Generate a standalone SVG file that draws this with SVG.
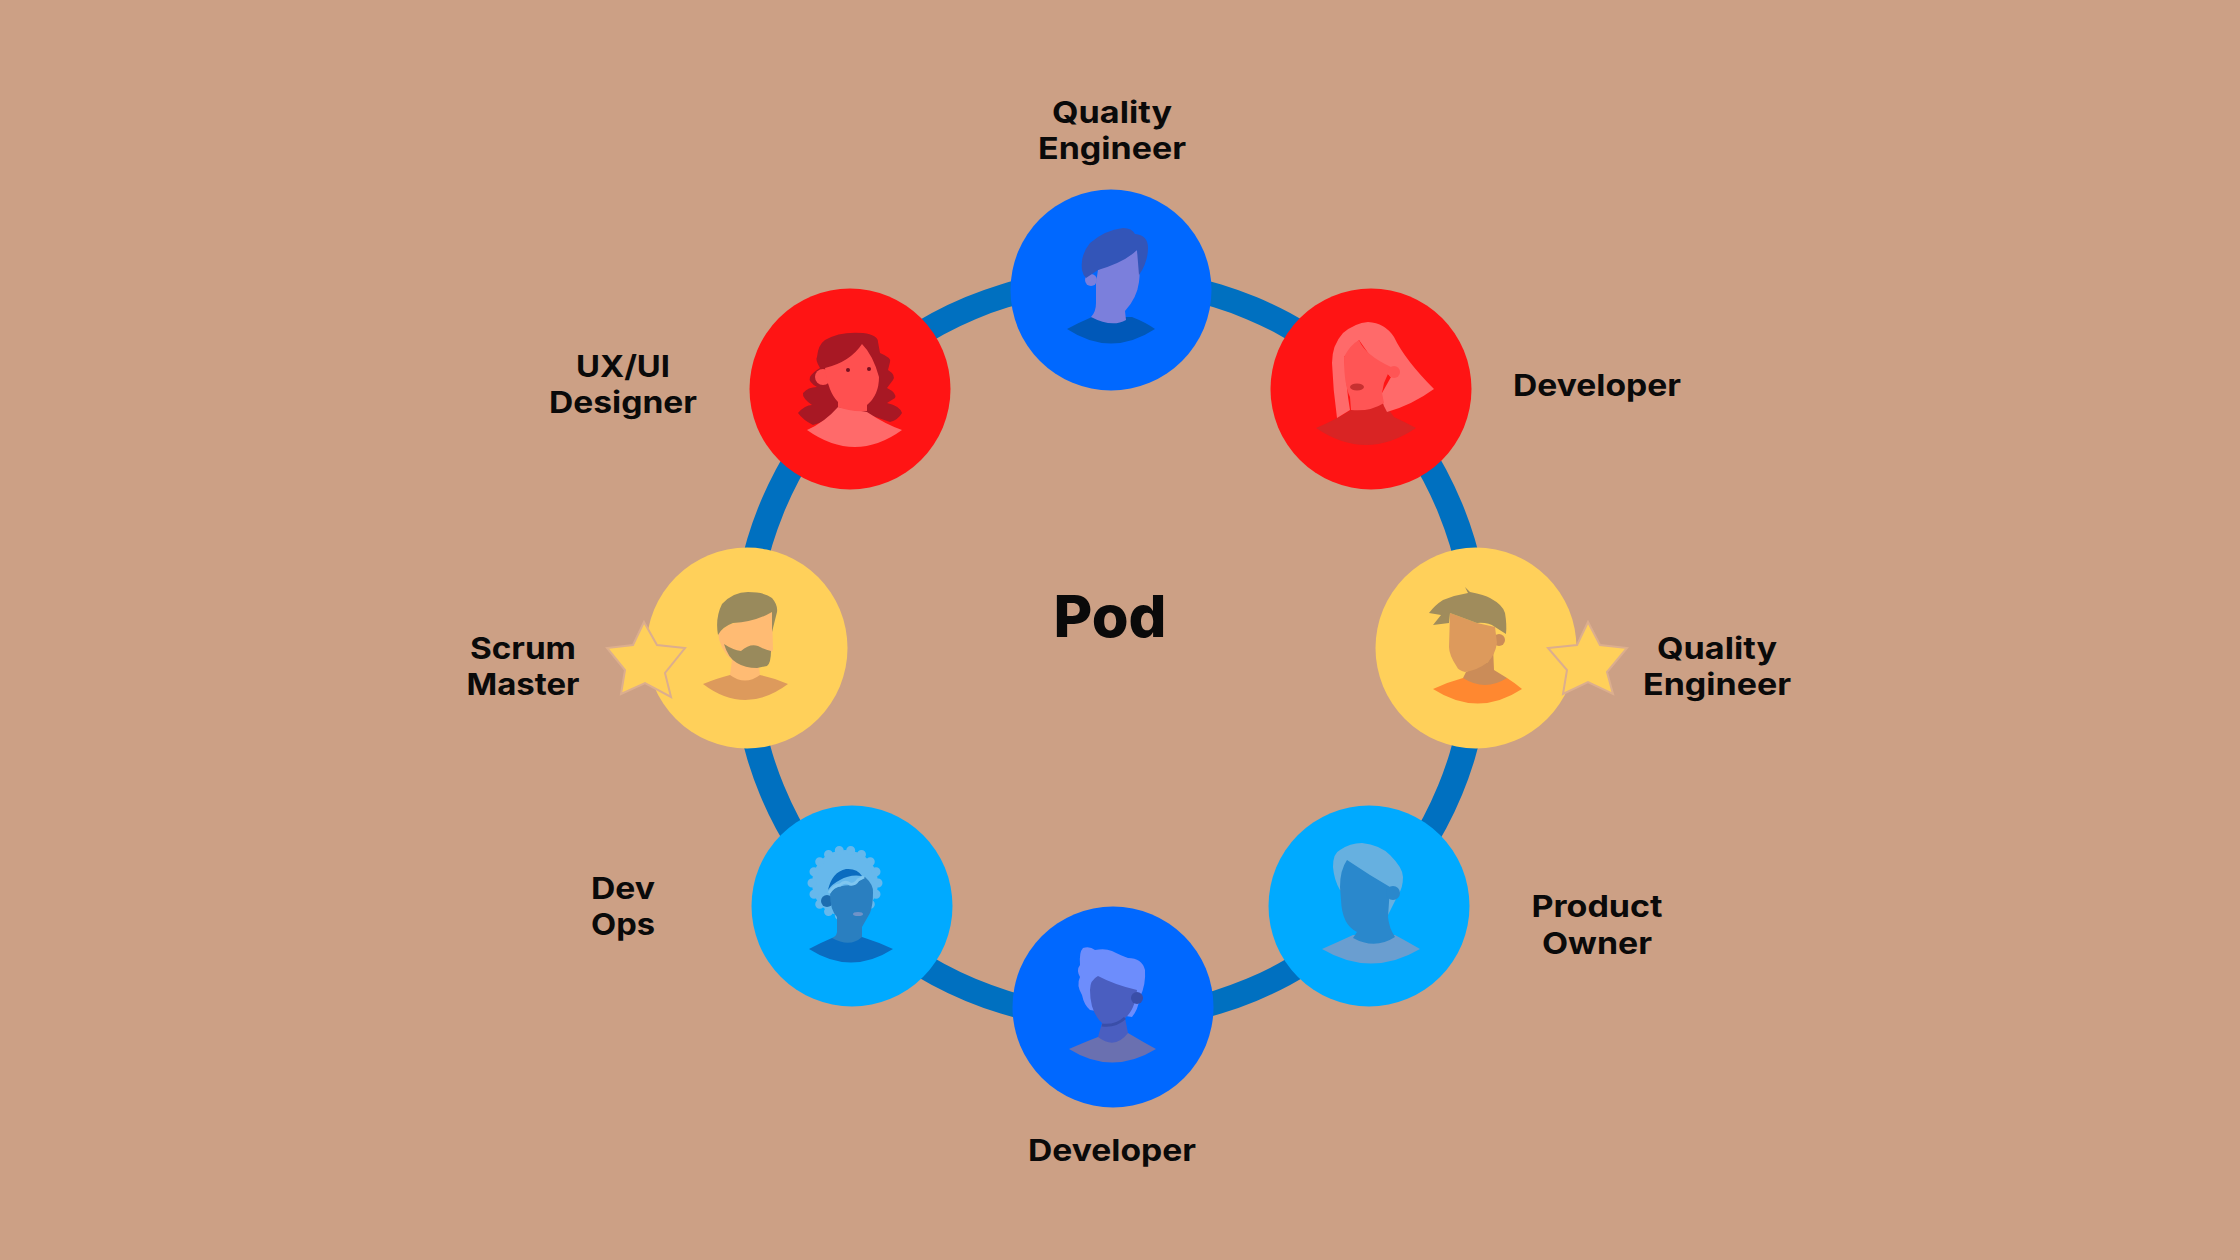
<svg xmlns="http://www.w3.org/2000/svg" width="2240" height="1260" viewBox="0 0 2240 1260">
<style>
text{font-family:Inter,"Open Sans","Liberation Sans",sans-serif;font-weight:700;fill:#0a0a0a;text-anchor:middle}
.l{font-size:30px}
.p{font-size:58px;font-weight:800}
.red{fill:#ff1414}.blue{fill:#0068ff}.sky{fill:#00aaff}.yel{fill:#ffd05a}
.star{fill:#ffd05a;stroke:#dcae8e;stroke-width:2;stroke-linejoin:miter}
</style>
<rect width="2240" height="1260" fill="#cca085"/>
<g id="connectors"><path fill="#0070c0" fill-rule="evenodd" d="M731 649A380 381 0 1 1 1491 649A380 381 0 1 1 731 649ZM757 649A354 357 0 1 0 1465 649A354 357 0 1 0 757 649Z"/></g>

<g id="node-top-quality-engineer">
<circle class="blue" cx="1111" cy="290" r="100.5"/>
<path fill="#0058b8" d="M1067 329Q1080 322 1092 317L1132 317Q1145 322 1155 329Q1111 358 1067 329Z"/>
<circle cx="1091" cy="280" r="6" fill="#7b7fdc"/>
<path fill="#7b7fdc" d="M1098 270L1137 250Q1141 265 1139 282Q1137 298 1125 311L1126 320Q1112 328 1091 317Q1096 312 1096 303L1096 283Z"/>
<path fill="#3355b8" d="M1082 270Q1080 255 1090 243Q1105 230 1123 228Q1132 228 1135 234Q1148 235 1148 248Q1148 262 1139 275L1137 250Q1125 262 1098 270L1086 278Q1083 275 1082 270Z"/>
<text class="l" x="1112" y="123" textLength="120" lengthAdjust="spacingAndGlyphs">Quality</text><text class="l" x="1112" y="159" textLength="148" lengthAdjust="spacingAndGlyphs">Engineer</text>
</g>

<g id="node-developer-right">
<circle class="red" cx="1371" cy="389" r="100.5"/>
<path fill="#d92424" d="M1316 428Q1335 420 1351 410L1384 403L1394 417Q1405 422 1416 428Q1366 462 1316 428Z"/>
<path fill="#ff6a6a" d="M1332 363Q1332 345 1343 333Q1355 323 1368 322Q1385 323 1394 337Q1405 360 1434 389Q1412 405 1387 412Q1380 400 1382 393L1391 377L1373 360L1359 340L1344 357L1348 397L1350 410L1337 418Q1333 390 1332 363Z"/>
<path fill="#ff5555" d="M1359 340Q1365 355 1391 367L1384 383L1382 393L1384 403Q1370 412 1351 410L1350 397Q1344 385 1344 357Q1350 345 1359 340Z"/>
<circle cx="1394" cy="372" r="6" fill="#ff5555"/>
<ellipse cx="1357" cy="387" rx="7" ry="3.5" fill="#c83030"/>
<text class="l" x="1597" y="396" textLength="168" lengthAdjust="spacingAndGlyphs">Developer</text>
</g>

<g id="node-ux-ui-designer">
<circle class="red" cx="850" cy="389" r="100.5"/>
<path fill="#a81824" d="M820 368Q815 360 817 357Q818 345 825 340Q840 331 863 333Q878 335 878 342L880 353Q892 358 890 362L888 370Q896 375 893 380L887 388Q897 393 895 398L887 403Q900 406 902 413Q898 420 890 422L867 414L837 412Q825 422 813 425Q803 420 798 413Q805 405 812 405Q802 398 803 393Q808 387 817 387Q808 382 810 377Q813 372 820 368Z"/>
<path fill="#ff6a6a" d="M807 430Q825 422 838 407L867 412Q885 424 902 430Q855 464 807 430Z"/>
<circle cx="823" cy="377" r="8" fill="#ff5050"/>
<path fill="#ff5050" d="M825 368Q850 362 862 344Q873 355 879 377Q879 395 867 405L867 411Q850 412 838 407L838 402Q828 392 825 368Z"/>
<circle cx="848" cy="370" r="2" fill="#7a1020"/><circle cx="869" cy="369" r="2" fill="#7a1020"/>
<text class="l" x="623" y="377" textLength="94" lengthAdjust="spacingAndGlyphs">UX/UI</text><text class="l" x="623" y="413" textLength="148" lengthAdjust="spacingAndGlyphs">Designer</text>
</g>

<g id="node-scrum-master">
<circle class="yel" cx="747" cy="648" r="100.5"/>
<path fill="#dd9a5c" d="M703 684Q718 678 730 675L760 675Q775 678 788 684Q745 716 703 684Z"/>
<path fill="#ffbb73" d="M728 625L772 612L773 650L759 667L760 675Q745 686 730 675L732 660Q720 650 718 633Z"/>
<circle cx="725" cy="638" r="6" fill="#ffbb73"/>
<path fill="#998a5c" d="M718 635Q715 618 722 604Q733 592 748 592Q765 592 772 598Q778 605 777 612L775 620L772 632L772 612Q755 622 733 623Q722 627 718 635Z"/>
<path fill="#998a5c" d="M724 644Q733 650 741 651Q750 643 758 646Q765 650 771 651Q771 663 767 666L757 668Q745 668 737 663Q728 658 724 644Z"/>
<polygon class="star" points="644,622 657,645 685,648 665,673 671,697 645,683 621,694 625,670 607,648 633,645"/>
<text class="l" x="523" y="659" textLength="106" lengthAdjust="spacingAndGlyphs">Scrum</text><text class="l" x="523" y="695" textLength="113" lengthAdjust="spacingAndGlyphs">Master</text>
</g>

<g id="node-quality-engineer-right">
<circle class="yel" cx="1476" cy="648" r="100.5"/>
<path fill="#ff8830" d="M1433 689Q1448 682 1463 678L1507 678Q1515 683 1522 689Q1478 718 1433 689Z"/>
<path fill="#cb8c58" d="M1493 647L1494 670L1507 678Q1485 692 1463 678L1466 672L1488 662Z"/>
<circle cx="1499" cy="640" r="6" fill="#cb8c58"/>
<path fill="#dd9a5c" d="M1450 613L1477 623L1495 627L1497 643Q1495 655 1488 662Q1478 670 1465 672Q1458 670 1457 667Q1449 655 1449 647Z"/>
<path fill="#a08c5c" d="M1465 587L1470 592Q1485 595 1490 598Q1503 605 1505 613Q1507 625 1506 634L1495 627Q1488 622 1477 623L1450 613L1449 623L1433 625L1441 615L1429 613Q1435 605 1443 600Q1455 595 1468 593Z"/>
<polygon class="star" points="1588,622 1600,645 1627,648 1607,672 1613,694 1588,682 1563,694 1567,670 1548,648 1577,645"/>
<text class="l" x="1717" y="659" textLength="120" lengthAdjust="spacingAndGlyphs">Quality</text><text class="l" x="1717" y="695" textLength="148" lengthAdjust="spacingAndGlyphs">Engineer</text>
</g>

<g id="node-dev-ops">
<circle class="sky" cx="852" cy="906" r="100.5"/>
<circle cx="845" cy="883" r="33" fill="#66b8ec" stroke="#66b8ec" stroke-width="9" stroke-linecap="round" stroke-dasharray="0 11.5"/>
<path fill="#0a6cc0" d="M809 949Q820 943 832 938L862 937Q878 942 893 949Q851 976 809 949Z"/>
<circle cx="827" cy="901" r="6" fill="#1c6cb0"/>
<path fill="#2a7fc0" d="M830 893Q835 885 853 885L865 877Q874 885 873 893Q873 905 870 913L862 927L862 937Q850 948 832 938Q838 935 837 930L837 917Q830 910 830 893Z"/>
<path fill="#0a6cc0" d="M828 890Q832 872 846 869Q857 868 862 876Q850 874 840 880Q832 884 828 890Z"/>
<path fill="none" stroke="#7fc6f0" stroke-width="3" d="M829 893Q834 885 840 885Q845 880 850 884Q855 885 858 880L864 877"/>
<ellipse cx="858" cy="914" rx="5" ry="2" fill="#6f93c8"/>
<text class="l" x="623" y="899" textLength="64" lengthAdjust="spacingAndGlyphs">Dev</text><text class="l" x="623" y="935" textLength="64" lengthAdjust="spacingAndGlyphs">Ops</text>
</g>

<g id="node-developer-bottom">
<circle class="blue" cx="1113" cy="1007" r="100.5"/>
<path fill="#6a70b0" d="M1069 1049Q1085 1042 1098 1037L1128 1033Q1143 1042 1156 1049Q1112 1076 1069 1049Z"/>
<path fill="#6d8dfc" d="M1083 948Q1090 946 1095 950Q1105 948 1112 951Q1122 956 1128 958Q1142 958 1145 970Q1146 985 1140 997Q1138 1010 1132 1017L1090 1010Q1084 1005 1082 995Q1076 985 1080 977Q1076 970 1080 965Q1079 952 1083 948Z"/>
<path fill="#4a5ec0" d="M1098 976Q1115 985 1137 990Q1135 1010 1125 1018L1128 1033Q1115 1050 1098 1037L1102 1023Q1090 1012 1090 990Q1090 980 1098 976Z"/>
<circle cx="1137" cy="998" r="6" fill="#3a4ea8"/>
<path fill="none" stroke="#3a4ea8" stroke-width="3" d="M1102 1025Q1115 1027 1125 1018"/>
<text class="l" x="1112" y="1161" textLength="168" lengthAdjust="spacingAndGlyphs">Developer</text>
</g>

<g id="node-product-owner">
<circle class="sky" cx="1369" cy="906" r="100.5"/>
<path fill="#6a9ed0" d="M1322 949Q1338 942 1353 935L1395 935Q1408 942 1420 949Q1371 978 1322 949Z"/>
<path fill="#66b0e0" d="M1333 867Q1333 853 1340 850Q1350 843 1362 843Q1380 845 1390 855Q1403 868 1403 877Q1403 888 1398 895L1388 915L1340 890Q1334 880 1333 867Z"/>
<path fill="#2a88cc" d="M1347 860L1370 875L1390 887L1388 917Q1389 928 1395 937Q1375 950 1353 938L1357 932Q1342 925 1341 900L1340 887Q1340 870 1347 860Z"/>
<circle cx="1393" cy="893" r="7" fill="#2a88cc"/>
<text class="l" x="1597" y="917" textLength="131" lengthAdjust="spacingAndGlyphs">Product</text><text class="l" x="1597" y="954" textLength="110" lengthAdjust="spacingAndGlyphs">Owner</text>
</g>

<g id="center-label"><text class="p" x="1110" y="637" textLength="113" lengthAdjust="spacingAndGlyphs">Pod</text></g>
</svg>
